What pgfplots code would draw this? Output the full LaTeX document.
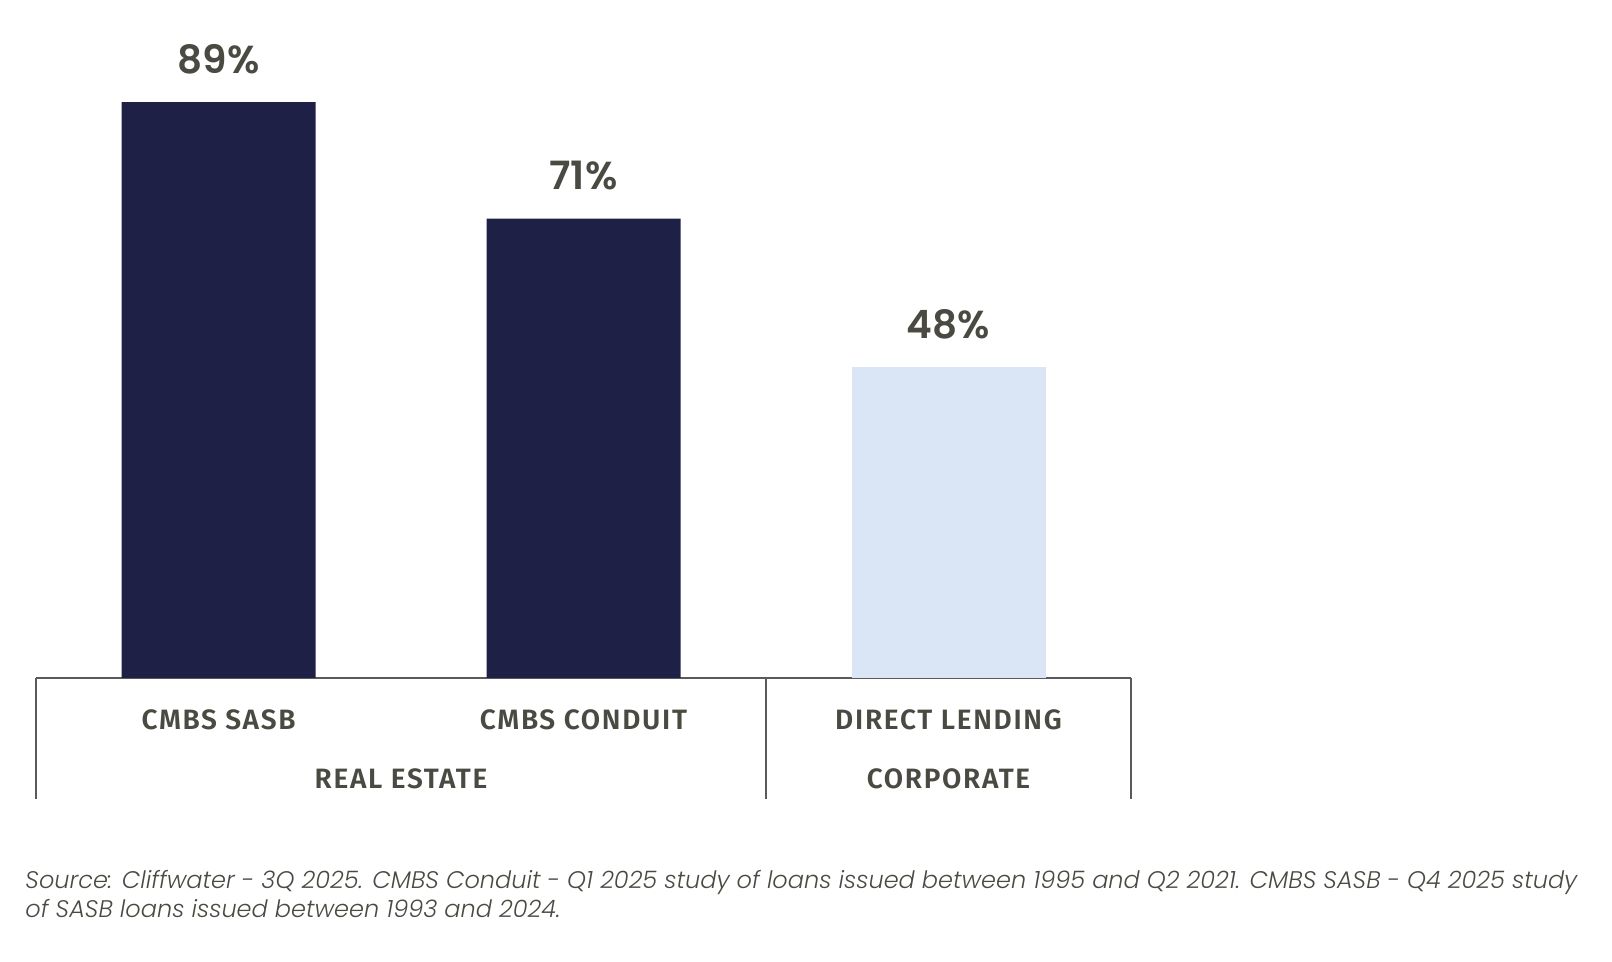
\documentclass[border=0pt]{standalone}
\usepackage{pgfplots}
\pgfplotsset{compat=1.18}
\usepackage{fontspec}
\setmainfont{Poppins}
\newfontfamily\catfont{Fira Sans}[UprightFont=* SemiBold, LetterSpace=6]
\newfontfamily\valfont{Poppins}[UprightFont=* SemiBold]
\newfontfamily\notefont{Poppins}[ItalicFont=* Light Italic]
\definecolor{navy}{RGB}{30,32,70}
\definecolor{lightblue}{RGB}{218,230,245}
\definecolor{txt}{RGB}{74,74,66}
\definecolor{axgray}{RGB}{90,90,90}
\begin{document}
\begin{tikzpicture}
\useasboundingbox (-18pt,-142pt) rectangle (788pt,339pt);
\begin{axis}[
  scale only axis,
  width=547.5pt, height=323.5pt,
  xmin=-0.5, xmax=2.5, ymin=0, ymax=100,
  axis x line=bottom, axis y line=none,
  x axis line style={draw=axgray, line width=0.6pt, -},
  xtick={0,1,2}, xticklabels={CMBS SASB, CMBS CONDUIT, DIRECT LENDING},
  major tick length=0pt,
  xticklabel style={font=\catfont\fontsize{14}{16}\selectfont, text=txt, anchor=center, yshift=-21pt},
  ytick=\empty,
  clip=false,
  ybar, bar width=97pt,
  nodes near coords={\pgfmathprintnumber[assume math mode=true]{\pgfplotspointmeta}\%},
  nodes near coords style={font=\valfont\fontsize{19.5}{22}\selectfont, text=txt, anchor=center, yshift=21.5pt},
]
\addplot[bar shift=0pt, fill=navy, draw=none] coordinates {(0,89) (1,71)};
\addplot[bar shift=0pt, fill=lightblue, draw=none] coordinates {(2,48)};
\draw[axgray, line width=0.6pt] (axis cs:-0.5,0) -- (axis cs:-0.5,-18.7);
\draw[axgray, line width=0.6pt] (axis cs:1.5,0) -- (axis cs:1.5,-18.7);
\draw[axgray, line width=0.6pt] (axis cs:2.5,0) -- (axis cs:2.5,-18.7);
\node[font=\catfont\fontsize{14}{16}\selectfont, text=txt] at (axis cs:0.5,-15.6) {REAL ESTATE};
\node[font=\catfont\fontsize{14}{16}\selectfont, text=txt] at (axis cs:2,-15.6) {CORPORATE};
\node[anchor=west, font=\notefont\itshape\fontsize{12}{14.5}\selectfont, text=txt, inner sep=0pt, align=left] at (axis cs:-0.53,-33.4) {Source: Cliffwater - 3Q 2025. CMBS Conduit - Q1 2025 study of loans issued between 1995 and Q2 2021. CMBS SASB - Q4 2025 study\\of SASB loans issued between 1993 and 2024.};
\end{axis}
\end{tikzpicture}
\end{document}
